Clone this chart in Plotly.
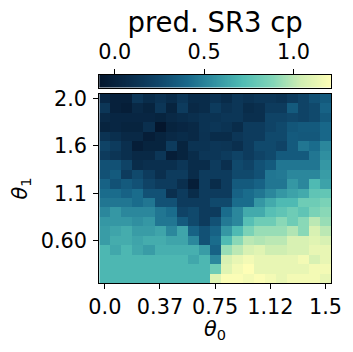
import numpy as np
import plotly.graph_objects as go

# ---- data ----
theta0_ticks = ["0.0", "0.37", "0.75", "1.12", "1.5"]
theta0_tickpos = [0, 5, 10, 15, 20]
theta1_ticks = ["2.0", "1.6", "1.1", "0.60"]
theta1_tickpos = [0, 5, 10, 15]
cbar_ticks = [0.0, 0.5, 1.0]
cbar_ticktext = ["0.0", "0.5", "1.0"]

# rows from top (theta1 = 2.0) to bottom, 21 columns (theta0 = 0 .. 1.5)
r00 = [0.05,0.00,0.00,0.15,0.08,0.12,0.08,0.15,0.08,0.08,0.12,0.08,0.15,0.12,0.15,0.15,0.13,0.18,0.23,0.30,0.34]
r01 = [0.15,0.00,-0.02,0.06,0.02,0.15,0.02,0.18,0.06,0.08,0.18,0.12,0.15,0.08,0.10,0.18,0.18,0.34,0.23,0.26,0.38]
r02 = [0.06,0.04,0.04,0.04,0.04,0.02,0.06,0.08,0.10,0.13,0.13,0.15,0.15,0.10,0.10,0.23,0.23,0.25,0.23,0.26,0.34]
r03 = [0.02,0.04,0.02,0.02,0.10,-0.086,0.02,0.04,0.06,0.13,0.15,0.13,0.08,0.18,0.18,0.23,0.26,0.32,0.34,0.34,0.40]
r04 = [0.13,0.10,0.06,0.06,-0.02,0.02,0.06,0.08,0.06,0.12,0.08,0.08,0.15,0.18,0.18,0.26,0.26,0.34,0.33,0.33,0.40]
r05 = [0.23,0.18,0.10,-0.02,0.02,0.02,0.18,0.02,0.13,0.13,0.15,0.14,0.10,0.18,0.26,0.26,0.23,0.34,0.46,0.42,0.52]
r06 = [0.18,0.14,0.10,0.06,0.06,0.15,-0.02,0.02,0.08,0.15,0.15,0.18,0.23,0.18,0.23,0.26,0.34,0.34,0.34,0.46,0.55]
r07 = [0.30,0.30,0.23,0.08,0.10,0.10,0.10,0.15,0.08,0.08,0.18,0.10,0.26,0.23,0.30,0.34,0.46,0.46,0.46,0.46,0.58]
r08 = [0.30,0.34,0.18,0.26,0.18,0.10,0.18,0.18,0.08,0.18,0.18,0.18,0.26,0.26,0.30,0.46,0.47,0.52,0.52,0.52,0.60]
r09 = [0.38,0.30,0.34,0.30,0.23,0.18,0.18,0.10,-0.02,0.18,0.08,0.18,0.34,0.34,0.38,0.46,0.46,0.58,0.52,0.71,0.62]
r10 = [0.42,0.42,0.38,0.42,0.30,0.30,0.10,0.18,0.08,0.18,0.18,0.18,0.38,0.42,0.46,0.52,0.58,0.62,0.65,0.77,0.78]
r11 = [0.46,0.46,0.46,0.42,0.46,0.30,0.30,0.18,0.18,0.18,0.26,0.26,0.42,0.42,0.58,0.65,0.71,0.71,0.82,0.82,0.86]
r12 = [0.52,0.58,0.52,0.52,0.52,0.46,0.42,0.23,0.26,0.18,0.18,0.42,0.52,0.65,0.65,0.74,0.77,0.82,0.77,0.86,0.90]
r13 = [0.58,0.58,0.58,0.55,0.58,0.46,0.46,0.34,0.26,0.18,0.30,0.47,0.52,0.74,0.82,0.82,0.90,0.82,0.90,1.00,0.93]
r14 = [0.60,0.63,0.66,0.60,0.60,0.63,0.52,0.63,0.38,0.30,0.38,0.58,0.71,0.86,0.93,0.93,0.93,0.98,0.90,1.07,1.00]
r15 = [0.60,0.66,0.66,0.63,0.66,0.66,0.63,0.63,0.52,0.30,0.42,0.71,0.90,1.00,0.98,1.00,1.00,1.07,1.07,1.10,1.07]
r16 = [0.70,0.64,0.70,0.64,0.60,0.67,0.67,0.67,0.67,0.60,0.38,0.93,1.00,1.07,1.10,1.04,1.04,1.07,1.07,1.13,1.13]
r17 = [0.70,0.70,0.70,0.70,0.70,0.70,0.70,0.70,0.64,0.70,0.52,1.07,1.13,1.17,1.13,1.13,1.13,1.13,1.17,1.07,1.13]
r18 = [0.70,0.70,0.70,0.70,0.70,0.70,0.70,0.70,0.70,0.70,0.82,1.10,1.17,1.21,1.13,1.13,1.13,1.13,1.13,1.17,1.17]
r19 = [0.70,0.70,0.70,0.70,0.70,0.70,0.70,0.70,0.70,0.70,1.10,1.20,1.20,1.17,1.20,1.17,1.13,1.17,1.17,1.17,1.13]

Z = [r00, r01, r02, r03, r04, r05, r06, r07, r08, r09,
     r10, r11, r12, r13, r14, r15, r16, r17, r18, r19]
Z = np.array(Z)
zmin, zmax = float(Z.min()), float(Z.max())

colorscale = [
    [0.00, "rgb(4,22,45)"],
    [0.12, "rgb(9,42,72)"],
    [0.25, "rgb(15,68,104)"],
    [0.38, "rgb(24,104,138)"],
    [0.50, "rgb(50,146,162)"],
    [0.62, "rgb(80,188,180)"],
    [0.75, "rgb(130,214,184)"],
    [0.87, "rgb(208,238,178)"],
    [1.00, "rgb(254,254,182)"],
]

W, H = 353, 352
px0, px1 = 99.3, 331.0
hy0, hy1 = 94.0, 283.0
cy0, cy1 = 75.0, 87.5

def fx(p):
    return p / W

def fy(p):
    return 1 - p / H

FONT = "DejaVu Sans"
TICKSZ = 20.8

fig = go.Figure()
fig.add_trace(go.Heatmap(
    z=Z, x=list(range(Z.shape[1])), y=list(range(Z.shape[0])),
    colorscale=colorscale, zmin=zmin, zmax=zmax, showscale=False,
    xaxis="x", yaxis="y", hoverinfo="skip"))

grad = np.linspace(zmin, zmax, 400)
fig.add_trace(go.Heatmap(
    z=[grad], x=grad, y=[0], colorscale=colorscale, zmin=zmin, zmax=zmax,
    showscale=False, xaxis="x2", yaxis="y2", hoverinfo="skip"))

axcommon = dict(showgrid=False, zeroline=False, showline=True, linecolor="black",
                linewidth=1.1, ticks="outside", ticklen=5, tickwidth=1.1,
                tickcolor="black", automargin=False,
                tickfont=dict(family=FONT, size=TICKSZ, color="black"))

fig.update_layout(
    width=W, height=H, margin=dict(l=0, r=0, t=0, b=0, autoexpand=False),
    paper_bgcolor="white", plot_bgcolor="white", showlegend=False,
    xaxis=dict(domain=[fx(px0), fx(px1)], anchor="y", range=[-0.5, 20.5],
               tickmode="array", tickvals=theta0_tickpos, ticktext=theta0_ticks,
               mirror=True, ticklabelstandoff=0, **axcommon),
    yaxis=dict(domain=[fy(hy1), fy(hy0)], anchor="x", range=[19.5, -0.5],
               tickmode="array", tickvals=theta1_tickpos, ticktext=theta1_ticks,
               mirror=True, ticklabelstandoff=2, **axcommon),
    xaxis2=dict(domain=[fx(px0), fx(px1)], anchor="y2", side="top", range=[zmin, zmax],
                tickmode="array", tickvals=cbar_ticks, ticktext=cbar_ticktext,
                mirror=True, ticklabelstandoff=2, **axcommon),
    yaxis2=dict(domain=[fy(cy1), fy(cy0)], anchor="x2", range=[-0.5, 0.5],
                showgrid=False, zeroline=False, showline=True, linecolor="black",
                linewidth=1.1, mirror=True, showticklabels=False, ticks="",
                automargin=False),
    title=dict(text="pred. SR3 cp", x=fx((px0 + px1) / 2), xanchor="center",
               y=fy(22), yanchor="middle", automargin=False,
               font=dict(family=FONT, size=27.5, color="black")),
    annotations=[
        dict(text="<i>θ</i><sub>0</sub>", xref="paper", yref="paper",
             x=fx((px0 + px1) / 2), y=fy(330), xanchor="center", yanchor="middle",
             showarrow=False, font=dict(family=FONT, size=TICKSZ, color="black")),
        dict(text="<i>θ</i><sub>1</sub>", xref="paper", yref="paper",
             x=fx(20), y=fy((hy0 + hy1) / 2), xanchor="center", yanchor="middle",
             textangle=-90, showarrow=False,
             font=dict(family=FONT, size=TICKSZ, color="black")),
    ],
)

fig.write_html("out.html")
